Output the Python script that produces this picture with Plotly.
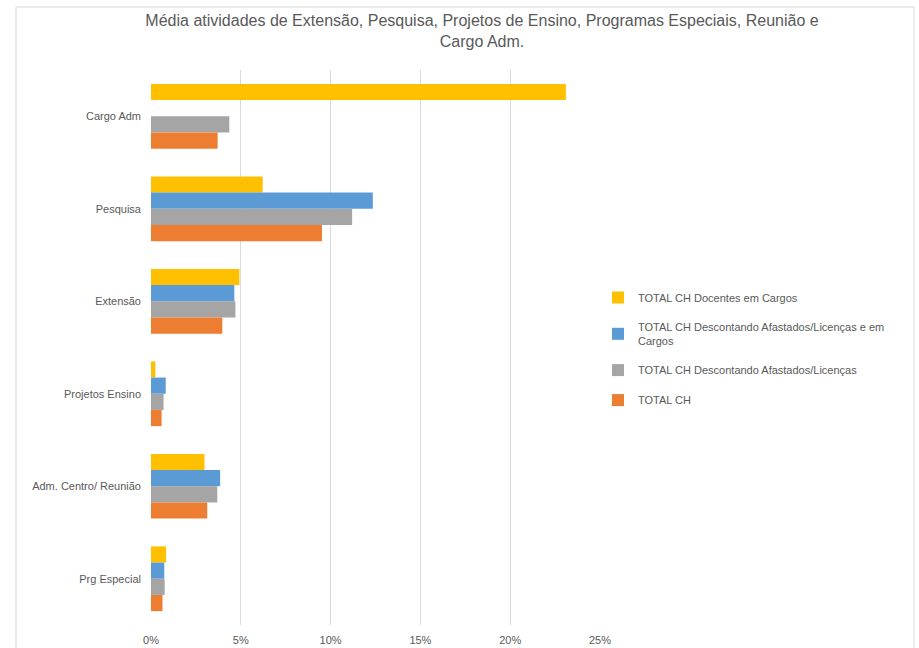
import plotly.graph_objects as go

categories = ["Cargo Adm", "Pesquisa", "Extensão", "Projetos Ensino", "Adm. Centro/ Reunião", "Prg Especial"]

series_names = [
    "TOTAL CH Docentes em Cargos",
    "TOTAL CH Descontando Afastados/Licenças e em<br>Cargos",
    "TOTAL CH Descontando Afastados/Licenças",
    "TOTAL CH",
]
docentes_cargos = [0.231, 0.0622, 0.0492, 0.0024, 0.0298, 0.0084]
desc_afast_cargos = [0.0, 0.1235, 0.0464, 0.0082, 0.0385, 0.0074]
desc_afast = [0.0436, 0.1120, 0.0470, 0.0070, 0.0369, 0.0076]
total_ch = [0.0371, 0.0952, 0.0397, 0.0059, 0.0313, 0.0064]

colors = ["#FFC000", "#5B9BD5", "#A5A5A5", "#ED7D31"]
values = [docentes_cargos, desc_afast_cargos, desc_afast, total_ch]

fig = go.Figure()
for i, (name, vals, col) in enumerate(zip(series_names, values, colors)):
    fig.add_trace(go.Bar(
        y=categories, x=vals, name=name, orientation="h",
        marker=dict(color=col, line=dict(width=0)),
        legendgroup=f"g{i}",
    ))

L, R, T, B = 151, 319, 70, 23
pw = 919 - L - R
ph = 648 - T - B

fig.update_layout(
    template="none",
    width=919, height=648,
    margin=dict(l=L, r=R, t=T, b=B, autoexpand=False),
    paper_bgcolor="white", plot_bgcolor="white",
    barmode="group", bargap=0.3, bargroupgap=0,
    font=dict(family="Liberation Sans, Arial, sans-serif", size=11, color="#595959"),
    title=dict(
        text="Média atividades de Extensão, Pesquisa, Projetos de Ensino, Programas Especiais, Reunião e<br>Cargo Adm.",
        x=482 / 919, xanchor="center", y=1 - 26 / 648, yanchor="top",
        font=dict(size=16, color="#595959"),
    ),
    xaxis=dict(
        range=[0, 0.25], tickvals=[0, 0.05, 0.10, 0.15, 0.20, 0.25],
        tickformat=".0%", showgrid=True, gridcolor="#d9d9d9", gridwidth=1,
        zeroline=False, showline=False, ticks="", fixedrange=True,
        automargin=False, ticklabelstandoff=7,
        tickfont=dict(size=11, color="#595959"),
    ),
    yaxis=dict(
        autorange="reversed", showgrid=False, zeroline=False, showline=False,
        ticks="", ticklabelstandoff=9, automargin=False,
        tickfont=dict(size=11, color="#595959"),
    ),
    legend=dict(
        x=(598 - L) / pw, xanchor="left", y=(648 - B - 283) / ph, yanchor="top",
        traceorder="grouped", tracegroupgap=11,
        font=dict(size=11, color="#595959"), itemwidth=30,
    ),
    showlegend=True,
    shapes=[dict(
        type="rect", xref="paper", yref="paper",
        x0=(16 - L) / pw, x1=(914 - L) / pw,
        y0=(648 - B - 660) / ph, y1=(648 - B - 7) / ph,
        line=dict(color="#d9d9d9", width=1), layer="below",
    )],
)

fig.write_html(
    "out.html",
    config={"displayModeBar": False},
    post_script="document.body.style.margin='0';document.body.style.padding='0';",
)
